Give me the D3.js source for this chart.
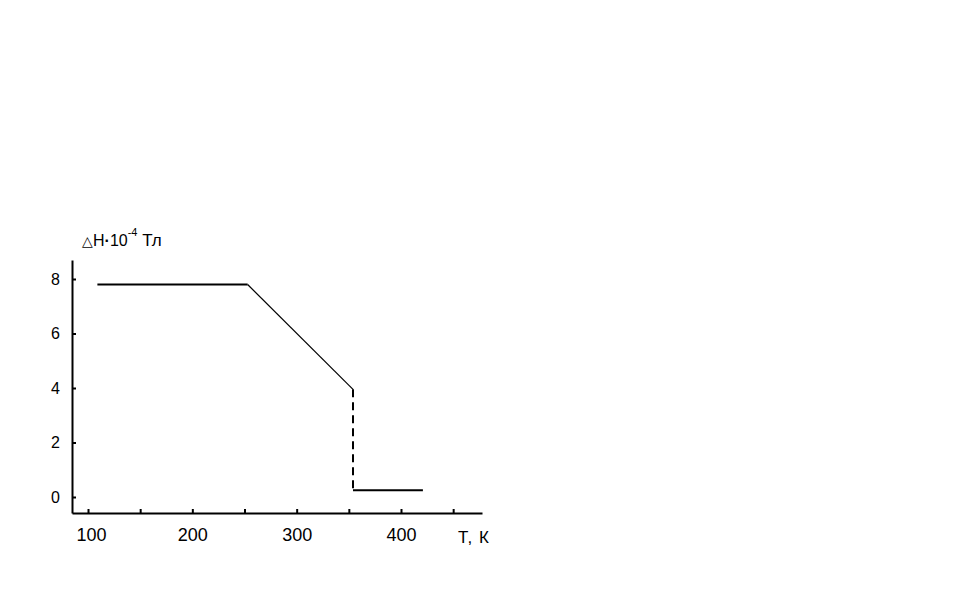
<!DOCTYPE html>
<html><head><meta charset="utf-8">
<script src="https://cdn.jsdelivr.net/npm/d3@7"></script>
<style>body{margin:0;background:#fff}svg{display:block}text{font-family:"Liberation Sans",Arial,sans-serif;fill:#000}</style>
</head><body>
<script>
// Data
const plateauT = [109, 253];
const plateauH = [7.8, 7.8];
const slopeT = [253, 354];
const slopeH = [7.8, 3.95];
const jumpT = [354, 354];
const jumpH = [3.95, 0.25];
const tailT = [354, 421];
const tailH = [0.25, 0.25];
const xTicks = [100, 150, 200, 250, 300, 350, 400, 450];
const xLabels = [100, 200, 300, 400];
const yTicks = [0, 2, 4, 6, 8];

const W = 956, H = 605;
const svg = d3.select("body").append("svg").attr("width", W).attr("height", H);

const x = d3.scaleLinear().domain([100, 400]).range([88, 401]);
x.domain([x.invert(72), x.invert(482)]).range([72, 482]);
const y = d3.scaleLinear().domain([0, 8]).range([497, 279]);
y.domain([y.invert(513), y.invert(260)]).range([513, 260]);

const xAxis = d3.axisBottom(x).tickValues(xTicks).tickSize(-4).tickSizeOuter(0).tickPadding(15)
  .tickFormat(d => xLabels.includes(d) ? d : "");
const gx = svg.append("g").attr("transform", "translate(0,513)").call(xAxis);
gx.selectAll("text").style("font-size", "18px").attr("dx", d => d === 100 ? "3px" : "0px");

const yAxis = d3.axisLeft(y).tickValues(yTicks).tickSize(-4).tickSizeOuter(0).tickPadding(12);
const gy = svg.append("g").attr("transform", "translate(72,0)").call(yAxis);
gy.selectAll("text").style("font-size", "16px");

svg.selectAll(".domain").attr("stroke", "#000").attr("stroke-width", 2);
svg.selectAll(".tick line").attr("stroke", "#000").attr("stroke-width", 2);
svg.selectAll(".tick text").attr("fill", "#000").style("font-family", '"Liberation Sans",Arial,sans-serif');

const line = d3.line().x(d => x(d[0])).y(d => y(d[1]));
const seg = (T, Hv) => T.map((t, i) => [t, Hv[i]]);

svg.append("path").datum(seg(plateauT, plateauH)).attr("d", line)
  .attr("fill", "none").attr("stroke", "#000").attr("stroke-width", 2);
svg.append("path").datum(seg(slopeT, slopeH)).attr("d", line)
  .attr("fill", "none").attr("stroke", "#000").attr("stroke-width", 1.2);
svg.append("path").datum(seg(jumpT, jumpH)).attr("d", line)
  .attr("fill", "none").attr("stroke", "#000").attr("stroke-width", 2).attr("stroke-dasharray", "8,5");
svg.append("path").datum(seg(tailT, tailH)).attr("d", line)
  .attr("fill", "none").attr("stroke", "#000").attr("stroke-width", 2);

const title = svg.append("text").attr("x", 82).attr("y", 246).style("font-size", "16px");
title.append("tspan").text("△").style("font-size", "14px");
title.append("tspan").text("H");
title.append("tspan").text("·").style("font-weight", "bold");
title.append("tspan").text("10");
title.append("tspan").text("-4").attr("dy", -10).style("font-size", "11px");
title.append("tspan").text(" Тл").attr("dy", 10).style("font-size", "17px");

svg.append("text").attr("x", 458).attr("y", 543).style("font-size", "17px").style("letter-spacing", "1px").text("Т, К");
</script>
</body></html>
